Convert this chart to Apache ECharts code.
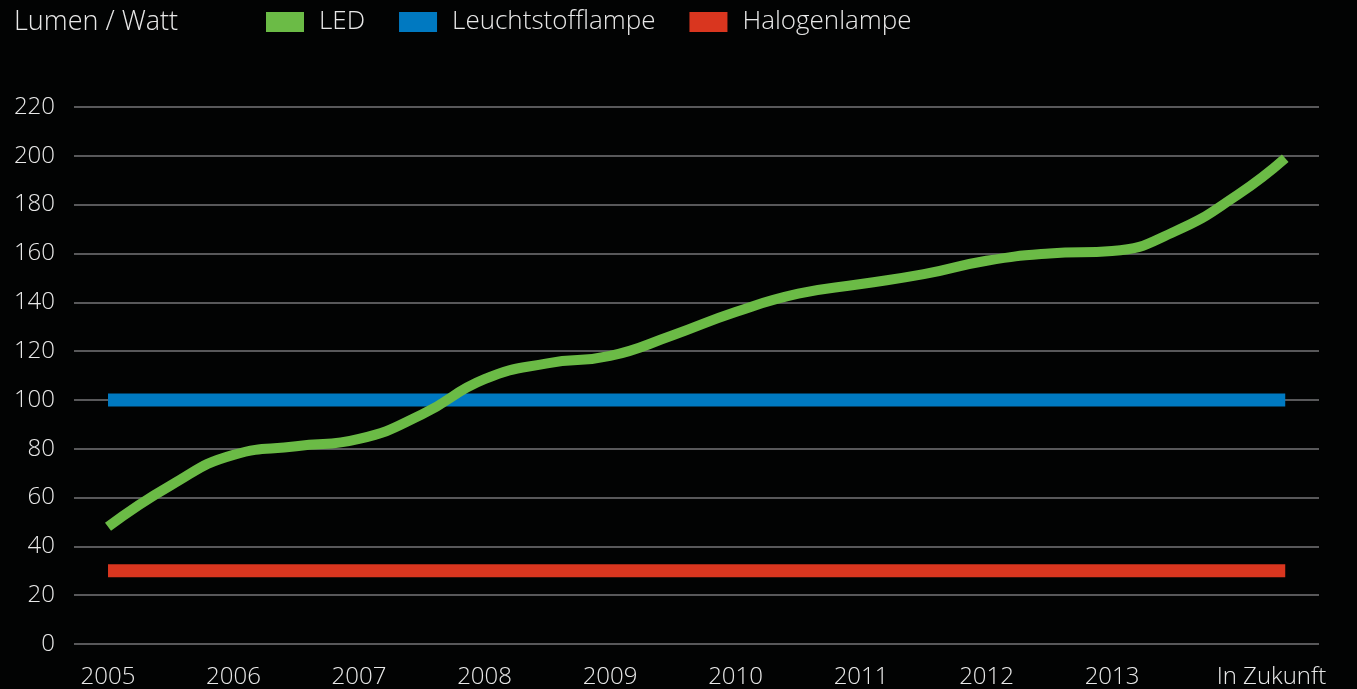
<!DOCTYPE html>
<html>
<head>
<meta charset="utf-8">
<script src="https://cdn.jsdelivr.net/npm/echarts@6/dist/echarts.min.js"></script>
<style>
html,body{margin:0;padding:0;background:#020303;}
#chart{width:1357px;height:689px;}
</style>
</head>
<body>
<div id="chart"></div>
<script>
// Category labels and their positions on the x scale
const categories = ['2005','2006','2007','2008','2009','2010','2011','2012','2013','In Zukunft'];
const categoryPos = [0,1,2,3,4,5,6,7,8,9.27];
const seriesNames = ['LED','Leuchtstofflampe','Halogenlampe'];
// LED curve (x in category steps)
const ledX = [0,0.5,1,1.5,2,2.5,3,3.5,4,4.5,5,5.5,6,6.5,7,7.5,8,8.5,9,9.38];
const ledY = [48,65,77.5,81,84,94,108.5,115,118,126.5,136,143.5,147.5,151.5,157,160,161,169,184,199];
// Constant reference lines
const fluoX = [0,9.38];
const fluoY = [100,100];
const haloX = [0,9.38];
const haloY = [30,30];
const yTicks = {min:0,max:220,interval:20};

const zip = (xs, ys) => xs.map((x,i)=>[x, ys[i]]);
const txt = '#e8e8e8';
const font = 'Open Sans';
const weight = 300;

const chart = echarts.init(document.getElementById('chart'));
chart.setOption({
  animation:false,
  backgroundColor:'#020303',
  title:{text:'Lumen / Watt',left:9,top:4,textStyle:{color:txt,fontFamily:font,fontWeight:weight,fontSize:27}},
  legend:{
    left:261,top:4,itemWidth:38,itemHeight:20,itemGap:34,
    icon:'rect',
    data:seriesNames,
    textStyle:{color:txt,fontFamily:font,fontWeight:weight,fontSize:26,padding:[0,0,0,10]}
  },
  grid:{left:74,right:38,top:107,bottom:45},
  xAxis:{
    type:'value',min:-0.271,max:9.649,
    axisLine:{show:false},axisTick:{show:false},splitLine:{show:false},
    axisLabel:{
      customValues:categoryPos,
      color:txt,fontFamily:font,fontWeight:weight,fontSize:24,margin:21,
      formatter:function(v){
        for(let i=0;i<categoryPos.length;i++){ if(Math.abs(categoryPos[i]-v)<0.01) return categories[i]; }
        return '';
      }
    }
  },
  yAxis:{
    type:'value',min:yTicks.min,max:yTicks.max,interval:yTicks.interval,
    axisLine:{show:false},axisTick:{show:false},
    splitLine:{show:true,lineStyle:{color:'#58585a',width:2}},
    axisLabel:{color:txt,fontFamily:font,fontWeight:weight,fontSize:24,margin:19}
  },
  series:[
    {name:seriesNames[0],type:'line',data:zip(ledX,ledY),smooth:0.5,showSymbol:false,symbol:'none',z:5,
     itemStyle:{color:'#6BBB46'},lineStyle:{color:'#6BBB46',width:10,cap:'butt'}},
    {name:seriesNames[1],type:'line',data:zip(fluoX,fluoY),showSymbol:false,symbol:'none',z:3,
     itemStyle:{color:'#0079C1'},lineStyle:{color:'#0079C1',width:13,cap:'butt'}},
    {name:seriesNames[2],type:'line',data:zip(haloX,haloY),showSymbol:false,symbol:'none',z:3,
     itemStyle:{color:'#D9361F'},lineStyle:{color:'#D9361F',width:13,cap:'butt'}}
  ]
});
</script>
</body>
</html>
